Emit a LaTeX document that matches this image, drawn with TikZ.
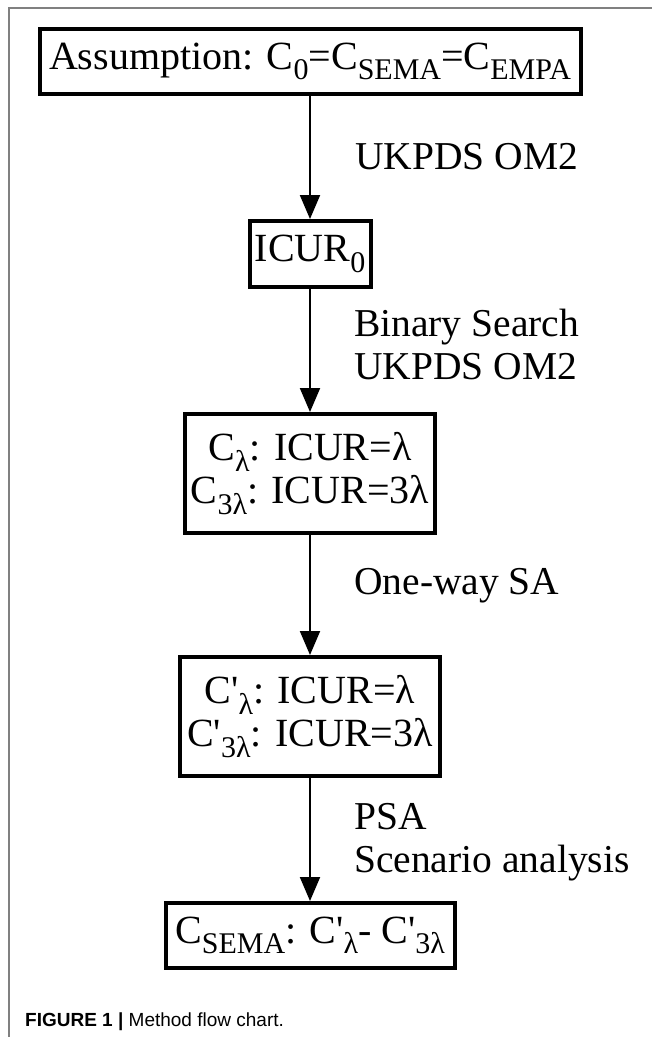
\documentclass[tikz,border=0pt]{standalone}
\usepackage{fontspec}
\setmainfont{Liberation Serif}
\newfontfamily\capfont{Liberation Sans}
\usetikzlibrary{arrows.meta}

% 下标：比正文小一号、下沉
\newcommand\sbs[1]{\raisebox{-0.26em}{\fontsize{30}{31}\selectfont #1}}
\newcommand\prm{\textquotesingle}

\begin{document}
\begin{tikzpicture}[x=1pt, y=-1pt, line cap=butt, line join=miter,
  stepbox/.style={draw, line width=4pt, inner sep=0pt, align=center,
    font=\fontsize{40}{43}\selectfont},
  flow/.style={line width=2pt, -{Triangle[width=20pt,length=24pt]}},
  note/.style={anchor=west, inner sep=0pt, align=left,
    font=\fontsize{39.5}{43}\selectfont}]

  %% ════ 外框（灰色，上边和左边）════
  \draw[gray, line width=1.5pt] (652,8) -- (9,8) -- (9,1037);

  %% ════ 流程框 ════
  \node[stepbox, minimum width=541, minimum height=65] (assume) at (310,61.5)
    {Assumption: C\sbs{0}=C\sbs{SEMA}=C\sbs{EMPA}};
  \node[stepbox, minimum width=121, minimum height=66] (icur) at (310,254)
    {ICUR\sbs{0}};
  \node[stepbox, minimum width=250, minimum height=119] (clam) at (310,473.5)
    {C\sbs{λ}: ICUR=λ\\C\sbs{3λ}: ICUR=3λ};
  \node[stepbox, minimum width=260, minimum height=119] (cprime) at (310,716.5)
    {C\prm\sbs{λ}: ICUR=λ\\C\prm\sbs{3λ}: ICUR=3λ};
  \node[stepbox, minimum width=289, minimum height=65] (csema) at (310,935.5)
    {C\sbs{SEMA}: C\prm\sbs{λ}- C\prm\sbs{3λ}};

  %% ════ 箭头 ════
  \draw[flow] (assume.south) -- (icur.north);
  \draw[flow] (icur.south) -- (clam.north);
  \draw[flow] (clam.south) -- (cprime.north);
  \draw[flow] (cprime.south) -- (csema.north);

  %% ════ 箭头旁的说明 ════
  \node[note] (om) at (355,157) {UKPDS OM2};
  \node[note] (search) at (354,344) {Binary Search\\UKPDS OM2};
  \node[note] (oneway) at (354,586) {One-way SA};
  \node[note] (psa) at (354,842) {PSA\\Scenario analysis};

  %% ════ 图题 ════
  \node[anchor=base west, inner sep=0pt, font=\capfont\fontsize{19}{22}\selectfont]
    (caption) at (25,1026) {\textbf{FIGURE 1 |} Method flow chart.};

  % 钉死画布
  \pgfresetboundingbox
  \path[use as bounding box] (0,0) rectangle (652,1037);
\end{tikzpicture}
\end{document}
